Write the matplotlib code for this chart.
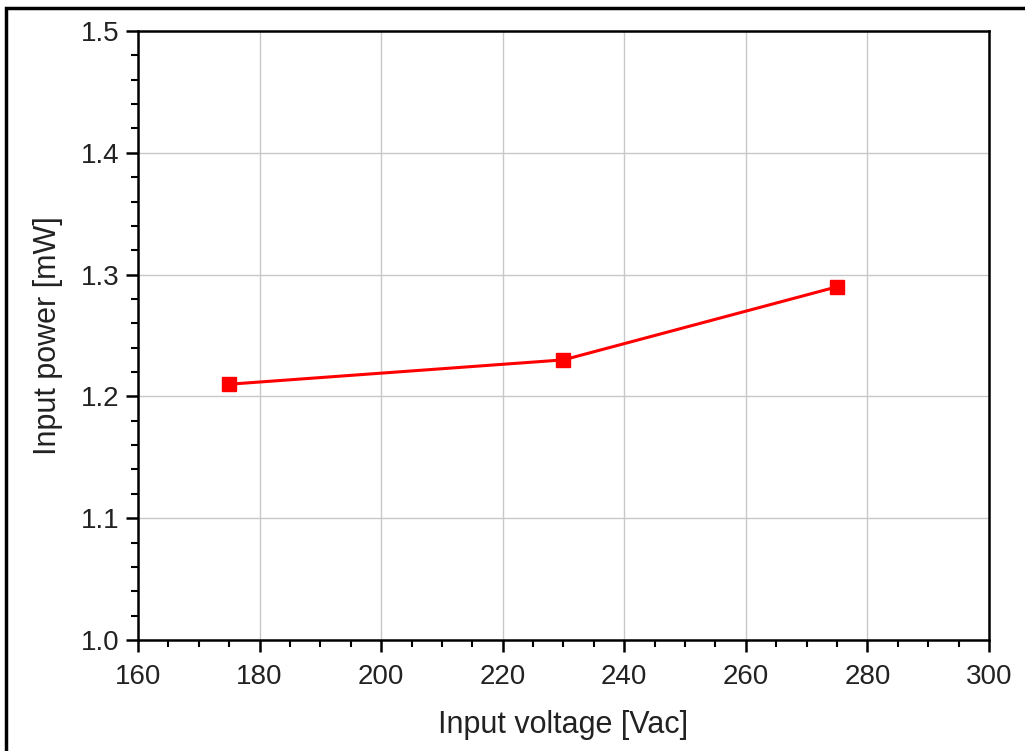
import numpy as np
import matplotlib.pyplot as plt
from matplotlib.patches import Rectangle
from matplotlib.ticker import MultipleLocator

plt.rcParams['font.family'] = ['Liberation Sans', 'DejaVu Sans']

# input power measured at three line voltages
voltage = [175, 230, 275]
power = [1.21, 1.23, 1.29]

fig = plt.figure(figsize=(10.25, 7.51), dpi=100)
ax = fig.add_axes([0.1346, 0.1478, 0.8303, 0.8109])

ax.plot(voltage, power, color="red", linewidth=2.2, marker="s", markersize=9.5,
        markeredgecolor="red", zorder=3)

ax.set_xlim(160, 300)
ax.set_ylim(1.0, 1.5)
ax.xaxis.set_major_locator(MultipleLocator(20))
ax.xaxis.set_minor_locator(MultipleLocator(5))
ax.yaxis.set_major_locator(MultipleLocator(0.1))
ax.yaxis.set_minor_locator(MultipleLocator(0.02))
ax.yaxis.set_major_formatter(plt.FormatStrFormatter('%.1f'))

ax.grid(True, which="major", color="#c8c8c8", linewidth=1)
ax.set_axisbelow(True)
for s in ax.spines.values():
    s.set_linewidth(1.8)
ax.tick_params(which="major", direction="out", length=8.5, width=1.8,
               labelsize=20, colors="black", labelcolor="#222222", pad=5)
ax.tick_params(which="minor", direction="out", length=5, width=1.5)
ax.tick_params(axis="x", which="major", pad=9)
ax.tick_params(top=False, right=False, which="both")

ax.set_xlabel("Input voltage [Vac]", fontsize=22, color="#222222", labelpad=14)
ax.set_ylabel("Input power [mW]", fontsize=22, color="#222222", labelpad=13)

# outer frame around the figure
fig.patches.append(Rectangle((6 / 1025, -0.05), 1.2, (751 - 8) / 751 + 0.05,
                             transform=fig.transFigure, fill=False,
                             edgecolor="black", linewidth=2.5, clip_on=False))

fig.savefig("out.png", dpi=100)
